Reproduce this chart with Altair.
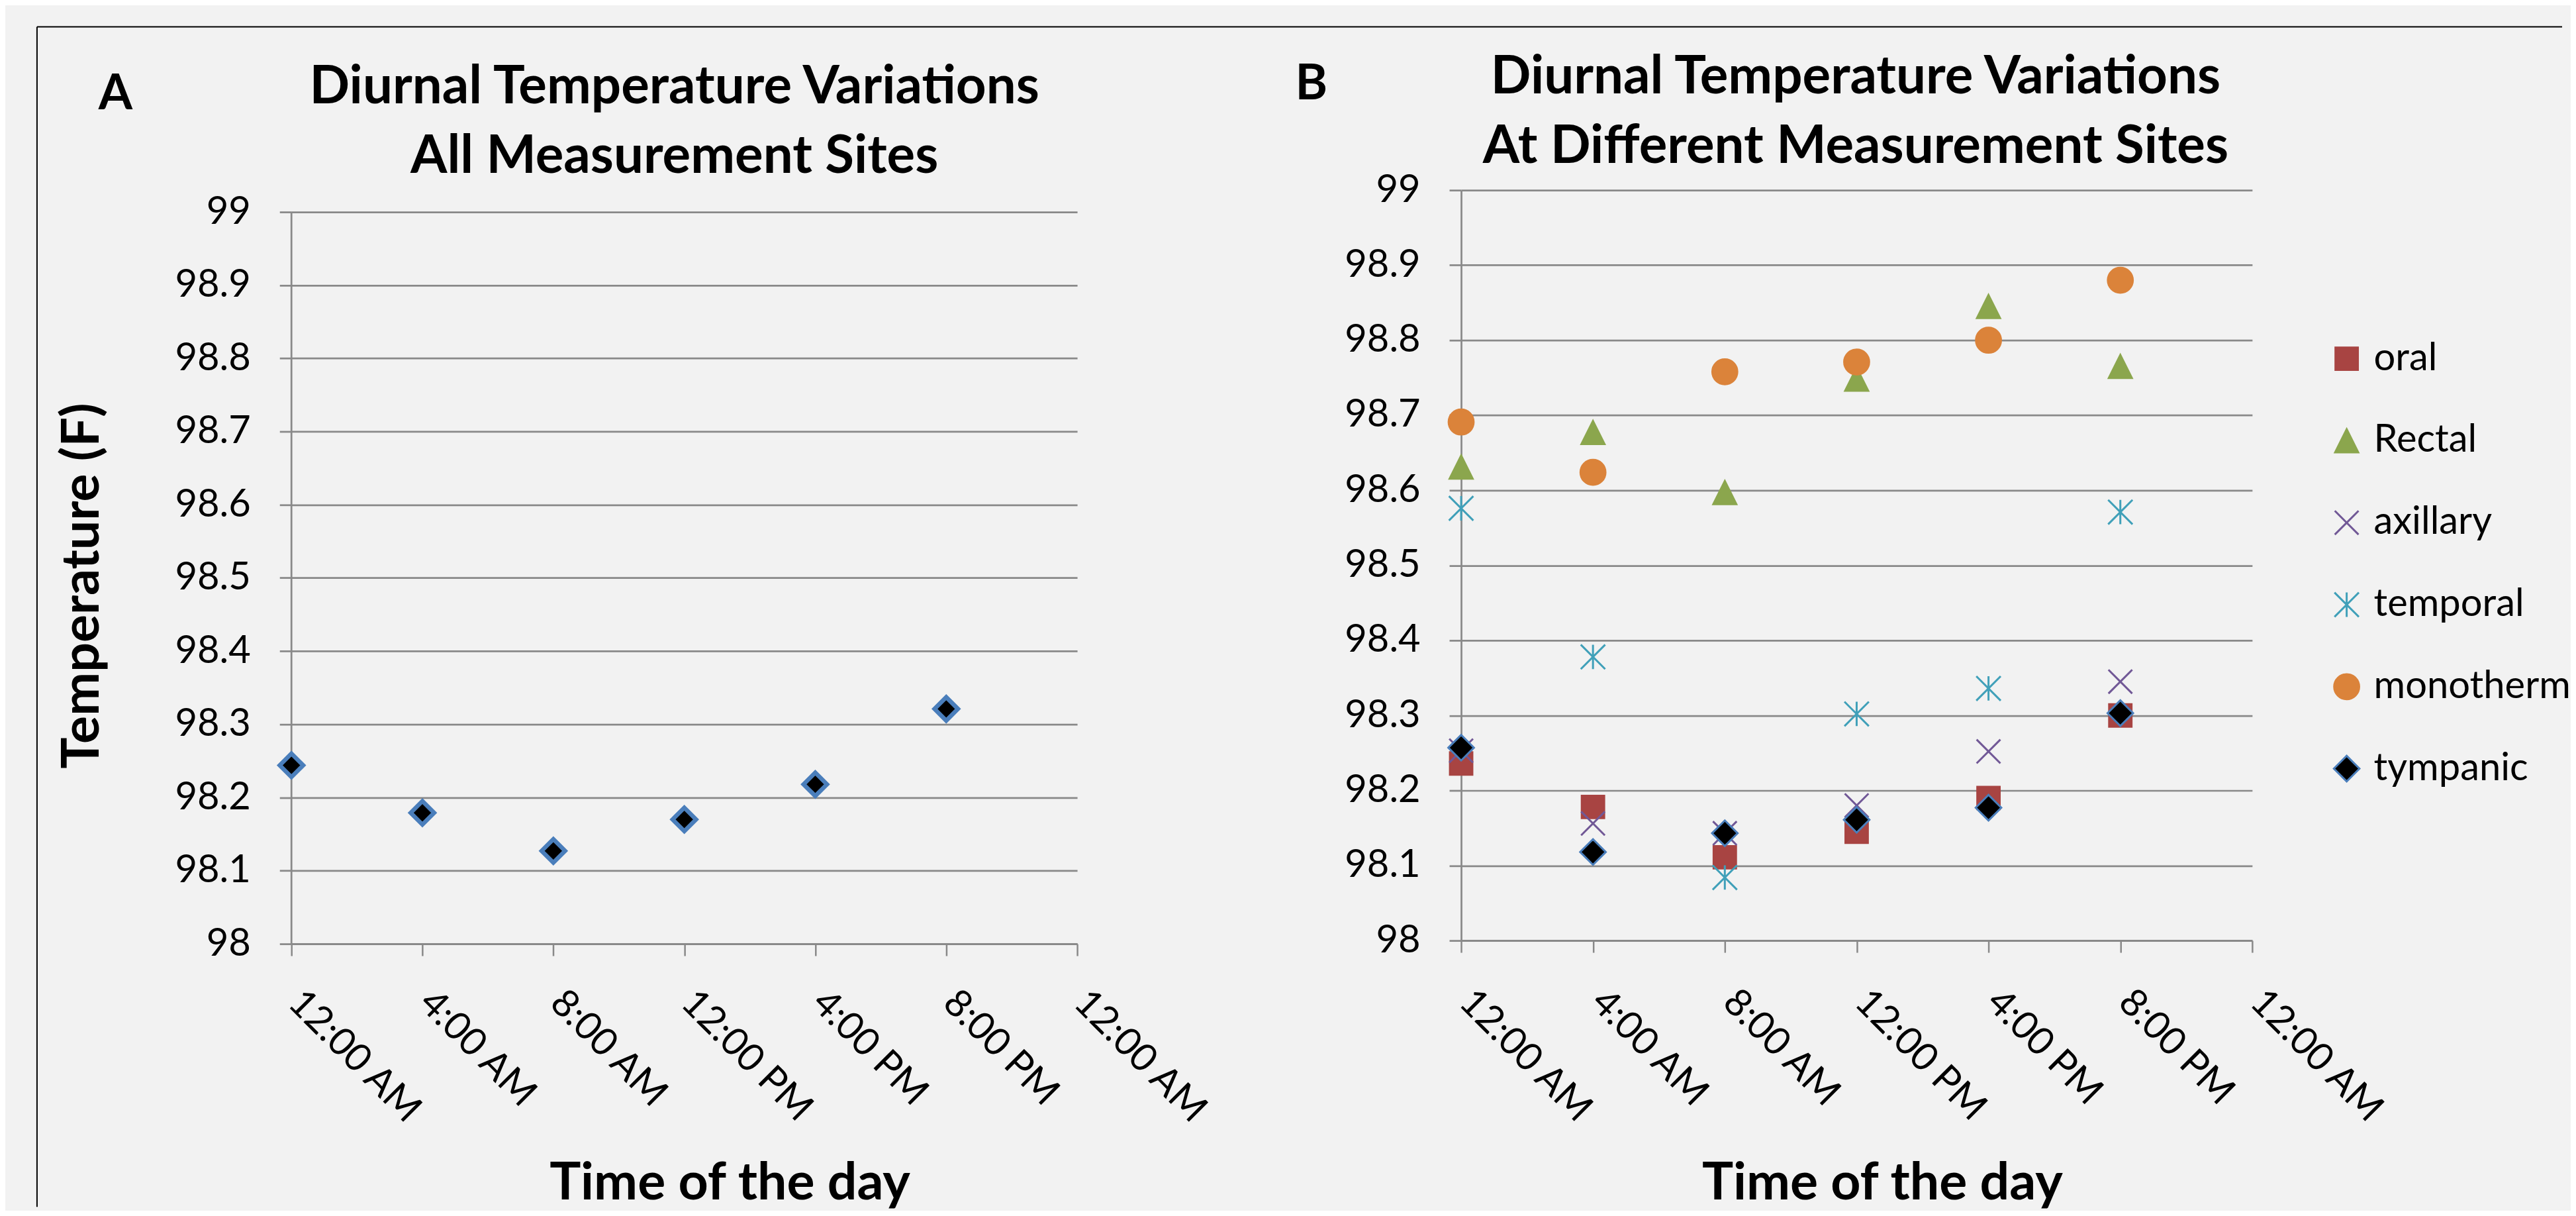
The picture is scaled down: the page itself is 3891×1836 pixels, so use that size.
import altair as alt
import pandas as pd

# ---------------- data ----------------
times = [0, 4, 8, 12, 16, 20]
time_ticks = [0, 4, 8, 12, 16, 20, 24]
time_labels = ["12:00 AM", "4:00 AM", "8:00 AM", "12:00 PM", "4:00 PM", "8:00 PM", "12:00 AM"]
temp_ticks = [98.0, 98.1, 98.2, 98.3, 98.4, 98.5, 98.6, 98.7, 98.8, 98.9, 99.0]

all_sites = [98.244, 98.179, 98.127, 98.170, 98.218, 98.321]

sites = ["oral", "Rectal", "axillary", "temporal", "monotherm", "tympanic"]
oral = [98.236, 98.178, 98.111, 98.145, 98.190, 98.300]
rectal = [98.631, 98.677, 98.597, 98.748, 98.845, 98.765]
axillary = [98.253, 98.156, 98.143, 98.180, 98.252, 98.345]
temporal = [98.576, 98.378, 98.084, 98.302, 98.336, 98.571]
monotherm = [98.691, 98.624, 98.758, 98.771, 98.800, 98.880]
tympanic = [98.257, 98.118, 98.143, 98.161, 98.177, 98.303]

panel_letters = ["A", "B"]
title_a = ["Diurnal Temperature Variations", "All Measurement Sites"]
title_b = ["Diurnal Temperature Variations", "At Different Measurement Sites"]
x_title = "Time of the day"
y_title = "Temperature (F)"

# ---------------- styles ----------------
FONT = "Lato"
GRID = "#898989"
BLUE = "#4A7EBB"
site_fill = ["#A84442", "#8BA64D", "transparent", "transparent", "#DB833A", "#000000"]
site_stroke = ["#A84442", "#8BA64D", "#715896", "#40A0B9", "#DB833A", BLUE]
site_shape = [
    "square",
    "M0,-1L1,1L-1,1Z",
    "M-1,-1L1,1M-1,1L1,-1",
    "M-1,-1L1,1M-1,1L1,-1M0,-1L0,1",
    "circle",
    "diamond",
]
site_size = [1150, 1500, 1760, 1850, 1150, 1300]

label_expr = "[" + ",".join("'%s'" % t for t in time_labels) + "][round(datum.value / 4)]"

df_a = pd.DataFrame({"time": times, "temp": all_sites})
series = [oral, rectal, axillary, temporal, monotherm, tympanic]
rows = []
for name, vals in zip(sites, series):
    for t, v in zip(times, vals):
        rows.append({"time": t, "temp": v, "site": name})
df_b = pd.DataFrame(rows)
one = pd.DataFrame({"k": [0]})


def x_axis(title_x, title_y, pad, off):
    return alt.Axis(
        values=time_ticks, labelExpr=label_expr, labelAngle=45, labelAlign="left",
        labelBaseline="middle", labelPadding=pad, labelOffset=off, labelFlush=False,
        labelOverlap=False, labelLimit=1000, tickSize=18, tickWidth=2.5, tickColor=GRID,
        domainColor=GRID, domainWidth=3, grid=False,
        title=x_title, titleX=title_x, titleY=title_y, titleAlign="center",
        titleBaseline="top",
    )


def y_axis(domain, title):
    kw = dict(
        values=temp_ticks, format=".3~r", labelPadding=44, labelOverlap=False,
        tickSize=18, tickWidth=2.75, tickColor=GRID, grid=True, gridColor=GRID,
        gridWidth=2.75, domain=domain, domainColor=GRID, domainWidth=2.75,
    )
    if title:
        kw.update(title=y_title, titleX=-292, titleY=598, titleAngle=270,
                  titleAlign="center", titleBaseline="alphabetic")
    else:
        kw.update(title=None)
    return alt.Axis(**kw)


# ---------------- panel A ----------------
y_domain_a = [98.0, 99.0298]
pts_a = alt.Chart(df_a).mark_point(
    shape="diamond", size=1260, filled=True, fill="black", stroke=BLUE,
    strokeWidth=6.5, opacity=1,
).encode(
    x=alt.X("time:Q", scale=alt.Scale(domain=[0, 24], nice=False, zero=False),
            axis=x_axis(663, 324, 62, 4)),
    y=alt.Y("temp:Q", scale=alt.Scale(domain=y_domain_a, nice=False, zero=False),
            axis=y_axis(False, True)),
)
vline_a = alt.Chart(one).mark_rule(color=GRID, strokeWidth=2.75).encode(
    x=alt.X(datum=0, title=x_title),
    y=alt.Y(datum=98.0, title=y_title),
    y2=alt.datum(99.0),
)
frame_v = alt.Chart(one).mark_rule(color="black", strokeWidth=2).encode(
    x=alt.value(-385), y=alt.value(-247), y2=alt.value(1538)
)
frame_h = alt.Chart(one).mark_rule(color="black", strokeWidth=2).encode(
    x=alt.value(-385), x2=alt.value(3436), y=alt.value(-247)
)
letter_a = alt.Chart(pd.DataFrame({"p": [panel_letters[0]]})).mark_text(
    font=FONT, fontSize=74, fontWeight="bold", align="left", baseline="alphabetic",
    color="black",
).encode(text="p:N", x=alt.value(-292), y=alt.value(-122))

panel_a = alt.layer(vline_a, pts_a, frame_v, frame_h, letter_a).properties(
    width=1189, height=1140,
    title=alt.TitleParams(text=title_a, font=FONT, fontSize=80, fontWeight="bold",
                          color="black", lineHeight=105, anchor="middle",
                          frame="group", offset=-239, dx=-15),
)

# ---------------- panel B ----------------
site_legend = alt.Legend(title=None, orient="none", legendX=3081, legendY=226)
pts_b = alt.Chart(df_b).mark_point(strokeWidth=3, opacity=1, filled=True).encode(
    x=alt.X("time:Q", scale=alt.Scale(domain=[0, 24], nice=False, zero=False),
            axis=x_axis(637, 329, 66, 6)),
    y=alt.Y("temp:Q", scale=alt.Scale(domain=[98.0, 99.0], nice=False, zero=False),
            axis=y_axis(True, False)),
    fill=alt.Fill("site:N", scale=alt.Scale(domain=sites, range=site_fill), legend=site_legend),
    stroke=alt.Stroke("site:N", scale=alt.Scale(domain=sites, range=site_stroke), legend=site_legend),
    shape=alt.Shape("site:N", scale=alt.Scale(domain=sites, range=site_shape), legend=site_legend),
    size=alt.Size("site:N", scale=alt.Scale(domain=sites, range=site_size), legend=site_legend),
)
letter_b = alt.Chart(pd.DataFrame({"p": [panel_letters[1]]})).mark_text(
    font=FONT, fontSize=74, fontWeight="bold", align="left", baseline="alphabetic",
    color="black",
).encode(text="p:N", x=alt.value(-251), y=alt.value(-137))

panel_b = alt.layer(pts_b, letter_b).properties(
    width=1197, height=1135,
    title=alt.TitleParams(text=title_b, font=FONT, fontSize=80, fontWeight="bold",
                          color="black", lineHeight=105, anchor="middle",
                          frame="group", offset=-172, dx=-1.5),
)

chart = alt.hconcat(panel_a, panel_b, spacing=581, bounds="flush").properties(
    padding={"left": 47, "top": 30, "right": 0, "bottom": 0},
    background="#F2F2F2",
).configure_view(
    strokeWidth=0
).configure_axis(
    labelFont=FONT, labelFontSize=58, labelColor="black",
    titleFont=FONT, titleFontSize=79, titleFontWeight="bold", titleColor="black",
).configure_legend(
    labelFont=FONT, labelFontSize=58, labelColor="black", labelOffset=12,
    labelLimit=1000, symbolStrokeWidth=3, rowPadding=66, padding=0,
)

chart.save("out.html", embed_options={"renderer": "svg", "actions": False})
